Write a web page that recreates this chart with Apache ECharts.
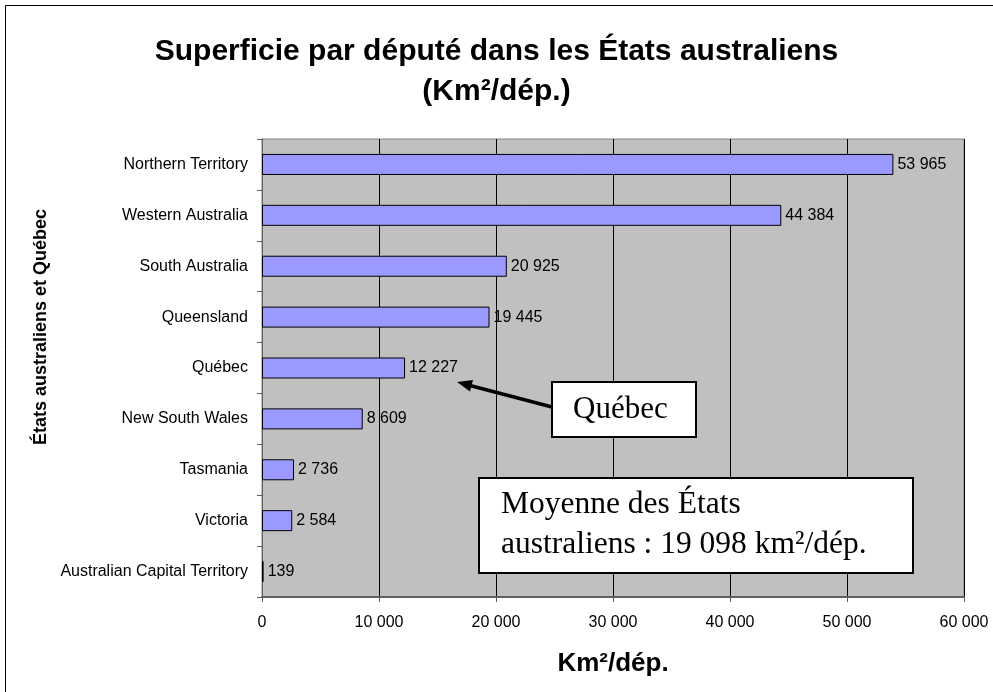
<!DOCTYPE html>
<html>
<head>
    <meta charset="utf-8">
    <title>Superficie par député</title>
    <script src="https://cdn.jsdelivr.net/npm/echarts@6/dist/echarts.min.js"></script>
    <style>
        html, body { margin: 0; padding: 0; background: #fff; }
    </style>
</head>
<body>
    <div id="chart" style="width: 993px;height:692px;"></div>

    <script>
        const categories = ['Northern Territory', 'Western Australia', 'South Australia', 'Queensland',
            'Québec', 'New South Wales', 'Tasmania', 'Victoria', 'Australian Capital Territory']
        const values = [53965, 44384, 20925, 19445, 12227, 8609, 2736, 2584, 139]
        const xTicks = [0, 10000, 20000, 30000, 40000, 50000, 60000]

        const fmt = v => String(v).replace(/\B(?=(\d{3})+(?!\d))/g, ' ')
        const sans = 'Liberation Sans, Arial, sans-serif'
        const serif = 'Liberation Serif, Times New Roman, serif'

        const chart = echarts.init(document.getElementById('chart'))
        chart.setOption({
            animation: false,
            backgroundColor: '#fff',
            title: {
                text: 'Superficie par député dans les États australiens\n(Km²/dép.)',
                left: 'center',
                top: 27,
                textStyle: { fontFamily: sans, fontSize: 30, fontWeight: 'bold', color: '#000', lineHeight: 40 }
            },
            grid: {
                left: 262, right: 29, top: 139, bottom: 95,
                show: true, backgroundColor: '#c0c0c0', borderColor: '#808080', borderWidth: 1
            },
            xAxis: {
                type: 'value',
                min: xTicks[0], max: xTicks[xTicks.length - 1], interval: 10000,
                name: 'Km²/dép.',
                nameLocation: 'middle',
                nameGap: 54,
                nameTextStyle: { fontFamily: sans, fontSize: 26, fontWeight: 'bold', color: '#000' },
                axisLine: { show: true, lineStyle: { color: '#606060', width: 2 } },
                axisTick: { show: true, length: 5, lineStyle: { color: '#606060' } },
                axisLabel: { formatter: fmt, fontFamily: sans, fontSize: 16, color: '#000', margin: 18 },
                splitLine: { show: true, lineStyle: { color: '#000', width: 1 } }
            },
            yAxis: {
                type: 'category',
                data: categories,
                inverse: true,
                axisLine: { show: true, lineStyle: { color: '#606060', width: 1 } },
                axisTick: { show: true, length: 5, lineStyle: { color: '#606060' } },
                axisLabel: { fontFamily: sans, fontSize: 16, color: '#000', margin: 14 },
                splitLine: { show: false }
            },
            series: [{
                type: 'bar',
                data: values,
                barWidth: 21,
                itemStyle: { color: '#9999ff', borderColor: '#000', borderWidth: 1 },
                label: {
                    show: true, position: 'right', distance: 4,
                    formatter: p => fmt(p.value),
                    fontFamily: sans, fontSize: 16, color: '#000'
                }
            }],
            graphic: [
                { type: 'rect', shape: { x: 5.5, y: 5.5, width: 1000, height: 700 },
                  style: { fill: 'none', stroke: '#000', lineWidth: 1 }, silent: true },
                { type: 'text', x: 41, y: 327, rotation: Math.PI / 2,
                  style: { text: 'États australiens et Québec', fontFamily: sans, fontSize: 18, fontWeight: 'bold',
                      fill: '#000', align: 'center', verticalAlign: 'middle' } },
                { type: 'line', shape: { x1: 552, y1: 407, x2: 470, y2: 385.5 },
                  style: { stroke: '#000', lineWidth: 3.5 }, z: 100 },
                { type: 'polygon', shape: { points: [[457, 382], [470, 391.6], [473, 380]] },
                  style: { fill: '#000' }, z: 100 },
                { type: 'rect', shape: { x: 552, y: 382, width: 144, height: 55 },
                  style: { fill: '#fff', stroke: '#000', lineWidth: 2 }, z: 100 },
                { type: 'text', x: 573, y: 410,
                  style: { text: 'Québec', fontFamily: serif, fontSize: 31, fill: '#000', verticalAlign: 'middle' }, z: 101 },
                { type: 'rect', shape: { x: 479, y: 478, width: 434, height: 95 },
                  style: { fill: '#fff', stroke: '#000', lineWidth: 2 }, z: 100 },
                { type: 'text', x: 501, y: 525,
                  style: { text: 'Moyenne des États\naustraliens : 19 098 km²/dép.', fontFamily: serif, fontSize: 31.5,
                      lineHeight: 40, fill: '#000', verticalAlign: 'middle' }, z: 101 }
            ]
        })
    </script>
</body>
</html>
